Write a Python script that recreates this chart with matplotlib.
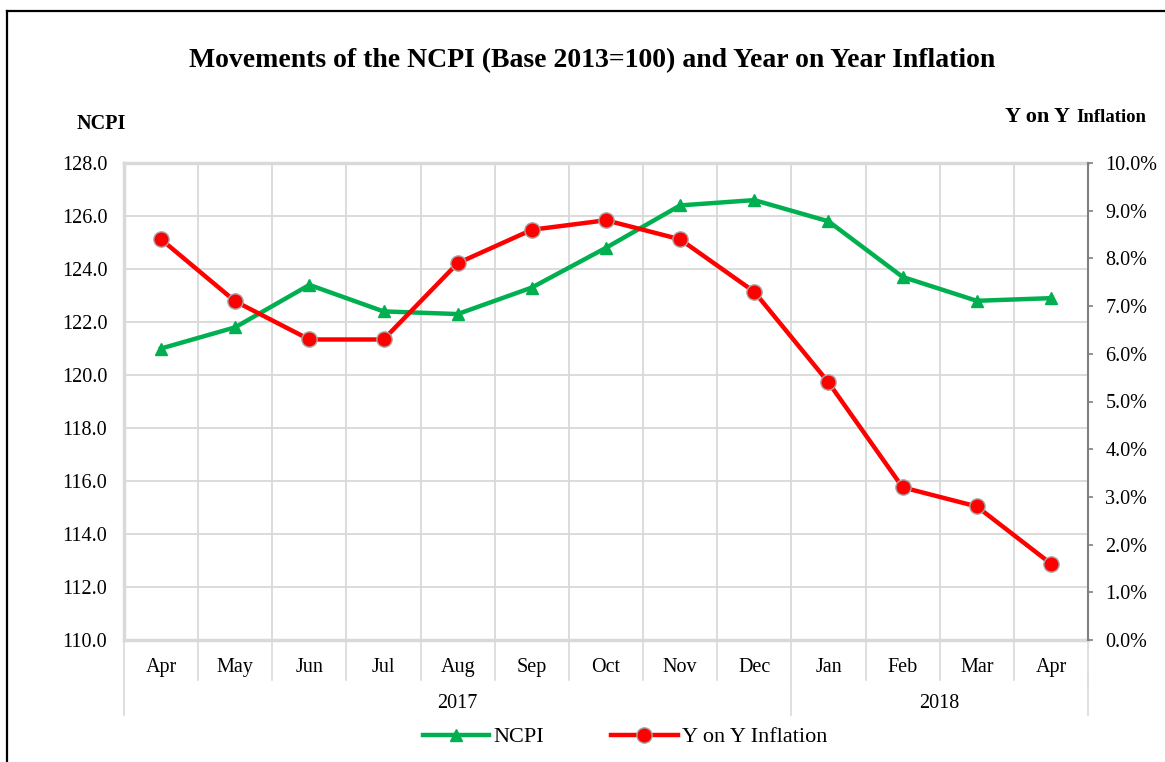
import matplotlib
matplotlib.use("Agg")
import matplotlib.pyplot as plt
import matplotlib.transforms as mtransforms
from matplotlib.lines import Line2D

months = ["Apr", "May", "Jun", "Jul", "Aug", "Sep", "Oct", "Nov", "Dec", "Jan", "Feb", "Mar", "Apr"]
years = ["2017", "2018"]
year_counts = [9, 4]
ncpi = [121.0, 121.8, 123.4, 122.4, 122.3, 123.3, 124.8, 126.4, 126.6, 125.8, 123.7, 122.8, 122.9]
yoy_inflation = [8.4, 7.1, 6.3, 6.3, 7.9, 8.6, 8.8, 8.4, 7.3, 5.4, 3.2, 2.8, 1.6]

plt.rcParams['font.family'] = ['Liberation Serif', 'DejaVu Serif']

W, H = 1165, 762
fig = plt.figure(figsize=(W / 100, H / 100), dpi=100)

# frame lines (top and left)
fig.add_artist(Line2D([7 / W, 7 / W], [0, 1 - 11 / H], transform=fig.transFigure, color='black', lw=1.6))
fig.add_artist(Line2D([7 / W, 1], [1 - 11 / H, 1 - 11 / H], transform=fig.transFigure, color='black', lw=1.6))

left, right, top, bottom = 124, 1088, 163, 640
ax = fig.add_axes([left / W, 1 - bottom / H, (right - left) / W, (bottom - top) / H])
ax2 = ax.twinx()

n = len(months)
x = list(range(n))
grid_c = '#D9D9D9'
fs = 14.5

ax.set_xlim(-0.5, n - 0.5)
ax.set_ylim(110, 128)
ax.set_yticks([110 + 2 * i for i in range(10)])
ax.set_yticklabels([f"{110 + 2 * i:.1f}" for i in range(10)], fontsize=fs)
ax.tick_params(axis='y', length=0, pad=12)
ax.set_xticks(x)
ax.set_xticklabels(months, fontsize=fs)
ax.tick_params(axis='x', length=0, pad=13)

# grid
for k in range(n + 1):
    ax.axvline(k - 0.5, color=grid_c, lw=1.3, zorder=0)
for i in range(1, 9):
    ax.axhline(110 + 2 * i, color=grid_c, lw=1.3, zorder=0)

for s in ['top', 'left', 'bottom']:
    ax.spines[s].set_color(grid_c)
    ax.spines[s].set_linewidth(2.5)
ax.spines['right'].set_visible(False)

ax2.set_ylim(0, 10)
ax2.set_yticks(list(range(11)))
ax2.set_yticklabels([f"{i}.0%" for i in range(11)], fontsize=fs)
ax2.tick_params(axis='y', length=3.6, width=1.2, color='#808080', pad=9)
for s in ['top', 'left', 'bottom']:
    ax2.spines[s].set_visible(False)
ax2.spines['right'].set_color('#808080')
ax2.spines['right'].set_linewidth(1.5)

l1, = ax.plot(x, ncpi, color='#00B050', lw=3.2, marker='^', markersize=9,
              markeredgecolor='#00B050', label='NCPI', zorder=3)
l2, = ax2.plot(x, yoy_inflation, color='#FF0000', lw=3.2, marker='o', markersize=11,
               markeredgecolor='#A6A6A6', markeredgewidth=1.0, label='Y on Y Inflation', zorder=3)

# category separators below axis
trans = mtransforms.blended_transform_factory(ax.transData, ax.transAxes)
ph = bottom - top
for k in range(n + 1):
    ax.add_line(Line2D([k - 0.5, k - 0.5], [0, -40 / ph], transform=trans, color=grid_c, lw=1.2, clip_on=False))
start = 0
bounds = [0]
for c in year_counts:
    start += c
    bounds.append(start)
for b in bounds:
    ax.add_line(Line2D([b - 0.5, b - 0.5], [-40 / ph, -75 / ph], transform=trans, color=grid_c, lw=1.2, clip_on=False))
for i, yr in enumerate(years):
    cx = (bounds[i] + bounds[i + 1]) / 2 - 0.5
    ax.text(cx, -64 / ph, yr, transform=trans, ha='center', va='center', fontsize=fs)

# titles
fig.text(592 / W, 1 - 61 / H, "Movements of the NCPI (Base 2013=100) and Year on Year Inflation",
         ha='center', va='center', fontsize=20, fontweight='bold')
fig.text(101 / W, 1 - 124 / H, "NCPI", ha='center', va='center', fontsize=14.5, fontweight='bold')
fig.text(1070 / W, 1 - 117 / H, "Y on Y", ha='right', va='center', fontsize=16, fontweight='bold')
fig.text(1076 / W, 1 - 118 / H, "Inflation", ha='left', va='center', fontsize=13.5, fontweight='bold')

fig.legend(handles=[l1, l2], loc='center', bbox_to_anchor=(625 / W, 1 - 737 / H), ncol=2,
           frameon=False, fontsize=16, handlelength=3, columnspacing=3, handletextpad=0.2)

fig.savefig("out.png", dpi=100)
